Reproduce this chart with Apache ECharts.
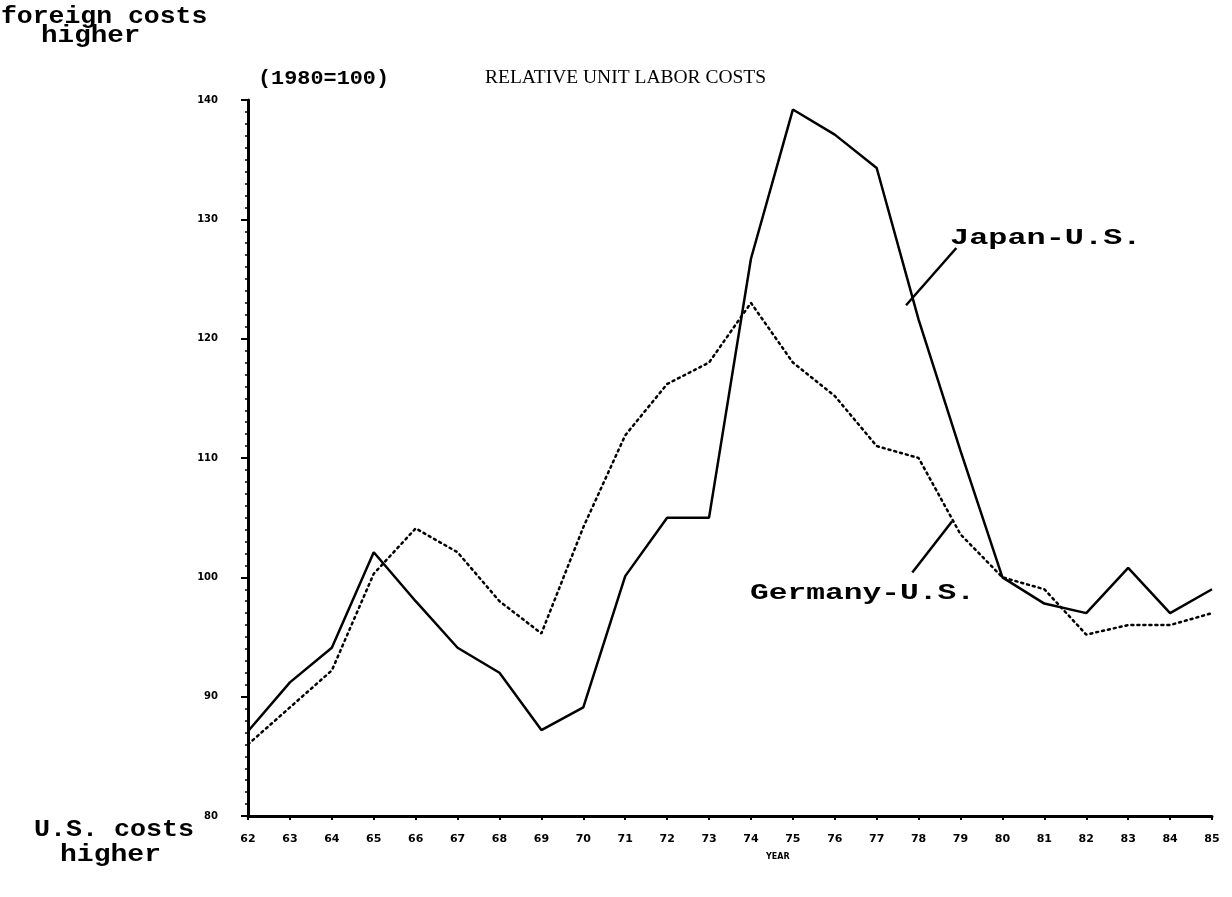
<!DOCTYPE html>
<html>
<head>
<meta charset="utf-8">
<title>Relative Unit Labor Costs</title>
<script src="https://cdn.jsdelivr.net/npm/echarts@6/dist/echarts.min.js"></script>
<style>
  html, body { margin: 0; padding: 0; background: #fff; }
  #chart { width: 1232px; height: 897px; }
</style>
</head>
<body>
<div id="chart"></div>
<script>
// years 1962-1985 (shown as 62..85)
var years = [62, 63, 64, 65, 66, 67, 68, 69, 70, 71, 72, 73, 74, 75, 76, 77, 78, 79, 80, 81, 82, 83, 84, 85];
// index, 1980 = 100
var japanUS = [87.1, 91.2, 94.1, 102.1, 98.0, 94.1, 92.0, 87.2, 89.1, 100.1, 105.0, 105.0, 126.7, 139.2, 137.1, 134.3, 121.6, 110.6, 100.0, 97.8, 97.0, 100.8, 97.0, 99.0];
var germanyUS = [86.0, 89.1, 92.2, 100.3, 104.1, 102.1, 98.0, 95.3, 104.2, 111.9, 116.2, 118.0, 123.0, 118.0, 115.2, 111.0, 110.0, 103.6, 100.0, 99.0, 95.2, 96.0, 96.0, 97.0];
var yTicks = [80, 90, 100, 110, 120, 130, 140];

function pairs(vals) {
  var out = [];
  for (var i = 0; i < years.length; i++) {
    out.push([years[i], vals[i]]);
  }
  return out;
}

var mono = '"Liberation Mono", "DejaVu Sans Mono", monospace';

// typewriter-style note, stretched a little to the width of the original
function note(text, x, y, size, sx) {
  return {
    type: 'text', x: x, y: y, scaleX: sx,
    style: { text: text, font: 'bold ' + size + 'px ' + mono, fill: '#000', align: 'left', verticalAlign: 'top' }
  };
}

var myChart = echarts.init(document.getElementById('chart'));

myChart.setOption({
  backgroundColor: '#fff',
  animation: false,
  grid: { left: 248, right: 20, top: 100, bottom: 81 },
  xAxis: {
    type: 'value',
    min: 62,
    max: 85,
    interval: 1,
    axisLine: { lineStyle: { color: '#000', width: 3 } },
    axisTick: { show: true, length: 4, lineStyle: { color: '#000', width: 2 } },
    axisLabel: {
      color: '#000', fontSize: 11, fontWeight: 'bold', margin: 18,
      fontFamily: 'DejaVu Sans',
      formatter: function (v) { return String(v); }
    },
    splitLine: { show: false }
  },
  yAxis: {
    type: 'value',
    min: yTicks[0],
    max: yTicks[yTicks.length - 1],
    interval: 10,
    axisLine: { show: true, lineStyle: { color: '#000', width: 3 } },
    axisTick: { show: true, length: 7, lineStyle: { color: '#000', width: 2 } },
    minorTick: { show: true, splitNumber: 10, length: 3, lineStyle: { color: '#000', width: 1.5 } },
    axisLabel: { color: '#000', fontSize: 10, fontWeight: 'bold', margin: 30, fontFamily: 'DejaVu Sans' },
    splitLine: { show: false }
  },
  graphic: [
    note('foreign costs', 1, 6, 23, 1.15),
    note('higher', 41, 25, 23, 1.2),
    note('(1980=100)', 258, 68, 21, 1.04),
    { type: 'text', x: 485, y: 68, style: { text: 'RELATIVE UNIT LABOR COSTS', font: '19.5px "Liberation Serif", serif', fill: '#000', align: 'left', verticalAlign: 'top' } },
    note('U.S. costs', 34, 819, 23, 1.16),
    note('higher', 60, 844, 23, 1.22),
    { type: 'text', x: 766, y: 853, style: { text: 'YEAR', font: 'bold 8px "DejaVu Sans"', fill: '#000', align: 'left', verticalAlign: 'top' } },
    note('Japan-U.S.', 950, 227, 22, 1.45),
    note('Germany-U.S.', 750, 582, 22, 1.42)
  ],
  series: [
    {
      name: 'Japan-U.S.',
      type: 'line',
      data: pairs(japanUS),
      symbol: 'none',
      lineStyle: { color: '#000', width: 2.5 },
      markLine: {
        silent: true,
        symbol: 'none',
        label: { show: false },
        lineStyle: { color: '#000', width: 2.5, type: 'solid' },
        data: [[{ coord: [78.9, 127.6] }, { coord: [77.7, 122.8] }]]
      }
    },
    {
      name: 'Germany-U.S.',
      type: 'line',
      data: pairs(germanyUS),
      symbol: 'none',
      lineStyle: { color: '#000', width: 2.5, type: [2, 4], cap: 'round' },
      markLine: {
        silent: true,
        symbol: 'none',
        label: { show: false },
        lineStyle: { color: '#000', width: 2.5, type: 'solid' },
        data: [[{ coord: [78.8, 104.7] }, { coord: [77.85, 100.4] }]]
      }
    }
  ]
});
</script>
</body>
</html>
